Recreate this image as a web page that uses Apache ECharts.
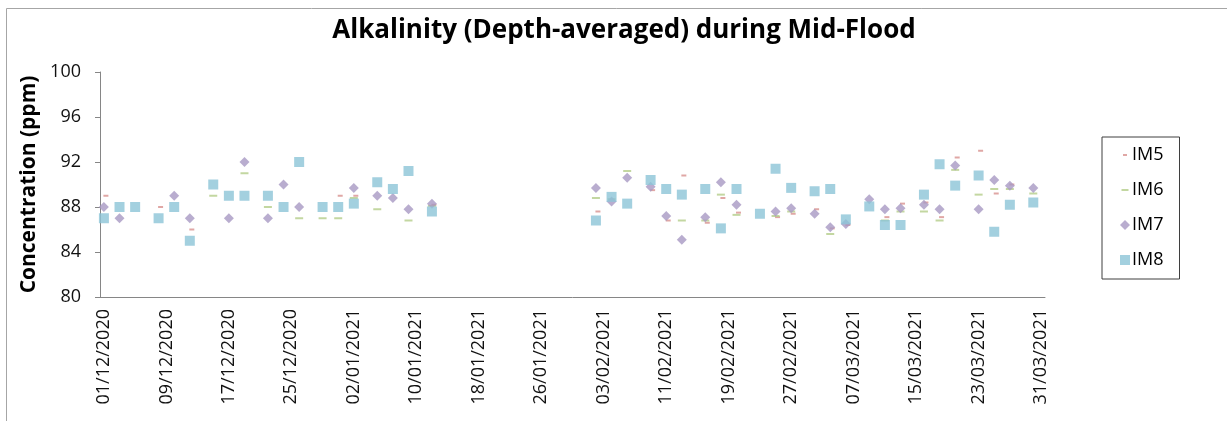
<!DOCTYPE html>
<html>
<head>
<meta charset="utf-8">
<script src="https://cdn.jsdelivr.net/npm/echarts@6/dist/echarts.min.js"></script>
<style>
  html, body { margin: 0; padding: 0; background: #fff; }
  #chart { width: 1227px; height: 421px; }
</style>
</head>
<body>
<div id="chart"></div>
<script>
// Daily axis span
const startDate = '2020-12-01';
const endDate = '2021-03-31';
const tickEvery = 8;

// Sampling dates (dd/mm/yyyy)
const sampleDates = [
  '01/12/2020', '03/12/2020', '05/12/2020', '08/12/2020', '10/12/2020', '12/12/2020',
  '15/12/2020', '17/12/2020', '19/12/2020', '22/12/2020', '24/12/2020', '26/12/2020',
  '29/12/2020', '31/12/2020', '02/01/2021', '05/01/2021', '07/01/2021', '09/01/2021',
  '12/01/2021',
  '02/02/2021', '04/02/2021', '06/02/2021', '09/02/2021', '11/02/2021', '13/02/2021',
  '16/02/2021', '18/02/2021', '20/02/2021', '23/02/2021', '25/02/2021', '27/02/2021',
  '02/03/2021', '04/03/2021', '06/03/2021', '09/03/2021', '11/03/2021', '13/03/2021',
  '16/03/2021', '18/03/2021', '20/03/2021', '23/03/2021', '25/03/2021', '27/03/2021',
  '30/03/2021'
];

// Alkalinity (ppm) per station, aligned with sampleDates
const im5 = [
  89, null, null, 88, null, 86,
  null, null, null, null, null, null,
  null, 89, 89, null, null, null,
  88.2,
  87.6, null, null, 89.5, 86.8, 90.8,
  86.6, 88.8, 87.5, null, 87.1, 87.4,
  87.8, 86.1, 86.4, null, 87.1, 88.3,
  88.4, 87.1, 92.4, 93.0, 89.2, 90.0,
  null
];
const im6 = [
  null, null, null, null, null, null,
  89, null, 91, 88, null, 87,
  87, 87, 88.8, 87.8, null, 86.8,
  88.1,
  88.8, 88.7, 91.2, null, null, 86.8,
  86.8, 89.1, 87.3, null, 87.2, 87.6,
  null, 85.6, null, null, 86.8, 87.6,
  87.6, 86.8, 91.3, 89.1, 89.6, 89.6,
  89.2
];
const im7 = [
  88, 87, null, null, 89, 87,
  null, 87, 92, 87, 90, 88,
  null, null, 89.7, 89, 88.8, 87.8,
  88.3,
  89.7, 88.5, 90.6, 89.8, 87.2, 85.1,
  87.1, 90.2, 88.2, null, 87.6, 87.9,
  87.4, 86.2, 86.5, 88.7, 87.8, 87.9,
  88.2, 87.8, 91.7, 87.8, 90.4, 89.9,
  89.7
];
const im8 = [
  87, 88, 88, 87, 88, 85,
  90, 89, 89, 89, 88, 92,
  88, 88, 88.3, 90.2, 89.6, 91.2,
  87.6,
  86.8, 88.9, 88.3, 90.4, 89.6, 89.1,
  89.6, 86.1, 89.6, 87.4, 91.4, 89.7,
  89.4, 89.6, 86.9, 88.05, 86.4, 86.4,
  89.1, 91.8, 89.9, 90.8, 85.8, 88.2,
  88.4
];

// Value axis
const yMin = 80, yMax = 100, yStep = 4;

const seriesColors = ['#d8918f', '#b4cd8a', '#a798c3', '#8cc4d7'];

// Build the list of calendar days for the category axis
function fmt(d) {
  const dd = String(d.getUTCDate()).padStart(2, '0');
  const mm = String(d.getUTCMonth() + 1).padStart(2, '0');
  return dd + '/' + mm + '/' + d.getUTCFullYear();
}
const days = [];
for (let d = new Date(startDate + 'T00:00:00Z'); d <= new Date(endDate + 'T00:00:00Z'); d.setUTCDate(d.getUTCDate() + 1)) {
  days.push(fmt(d));
}

function pairs(values) {
  const out = [];
  sampleDates.forEach((dt, i) => {
    if (values[i] != null) out.push([dt, values[i]]);
  });
  return out;
}

const font = '"Open Sans", Lato, sans-serif';
// Short dash icon centred in a 10x10 box
const dash = (w) => 'path://M0,0M10,10M' + (5 - w / 2) + ',4h' + w + 'v2h-' + w + 'z';

const chart = echarts.init(document.getElementById('chart'), null, { renderer: 'canvas' });
chart.setOption({
  animation: false,
  backgroundColor: '#fff',
  title: {
    text: 'Alkalinity (Depth-averaged) during Mid-Flood',
    left: 619,
    top: 13,
    textAlign: 'center',
    textStyle: { fontFamily: font, fontWeight: 'bold', fontSize: 26, color: '#000' }
  },
  graphic: [{
    type: 'polyline',
    shape: { points: [[6.5, 421], [6.5, 8.5], [1227, 8.5]] },
    style: { stroke: '#a6a6a6', lineWidth: 1, fill: null },
    silent: true
  }],
  legend: {
    orient: 'vertical',
    left: 1102,
    top: 137,
    padding: [9, 16, 10, 18],
    borderColor: '#3f3f3f',
    borderWidth: 1,
    itemGap: 17,
    itemWidth: 10,
    itemHeight: 10,
    textStyle: { fontFamily: font, fontSize: 18, color: '#000', padding: [0, 0, 0, -3] },
    data: [
      { name: 'IM5', icon: dash(4) },
      { name: 'IM6', icon: dash(7) },
      { name: 'IM7', icon: 'diamond' },
      { name: 'IM8', icon: 'rect' }
    ]
  },
  grid: { left: 100, right: 182, top: 72, bottom: 124 },
  xAxis: {
    type: 'category',
    data: days,
    boundaryGap: true,
    axisLine: { lineStyle: { color: '#868686', width: 1 } },
    axisTick: { interval: tickEvery - 1, length: 5, lineStyle: { color: '#868686' } },
    axisLabel: {
      interval: tickEvery - 1,
      rotate: 90,
      fontFamily: font,
      fontSize: 18,
      color: '#111',
      margin: 12
    },
    splitLine: { show: false }
  },
  yAxis: {
    type: 'value',
    min: yMin,
    max: yMax,
    interval: yStep,
    name: 'Concentration (ppm)',
    nameLocation: 'middle',
    nameGap: 55,
    nameTextStyle: { fontFamily: font, fontWeight: 'bold', fontSize: 21, color: '#000' },
    axisLine: { show: true, lineStyle: { color: '#868686', width: 1 } },
    axisTick: { show: true, length: 5, lineStyle: { color: '#868686' } },
    axisLabel: { fontFamily: font, fontSize: 18, color: '#111', margin: 19 },
    splitLine: { show: false }
  },
  series: [
    {
      name: 'IM5', type: 'scatter', data: pairs(im5),
      symbol: 'rect', symbolSize: [5, 2], symbolOffset: [2, 0],
      itemStyle: { color: seriesColors[0] }
    },
    {
      name: 'IM6', type: 'scatter', data: pairs(im6),
      symbol: 'rect', symbolSize: [8, 2],
      itemStyle: { color: seriesColors[1] }
    },
    {
      name: 'IM7', type: 'scatter', data: pairs(im7),
      symbol: 'diamond', symbolSize: [10, 10],
      itemStyle: { color: seriesColors[2] }
    },
    {
      name: 'IM8', type: 'scatter', data: pairs(im8),
      symbol: 'rect', symbolSize: [10, 10],
      itemStyle: { color: seriesColors[3] }
    }
  ]
});
</script>
</body>
</html>
